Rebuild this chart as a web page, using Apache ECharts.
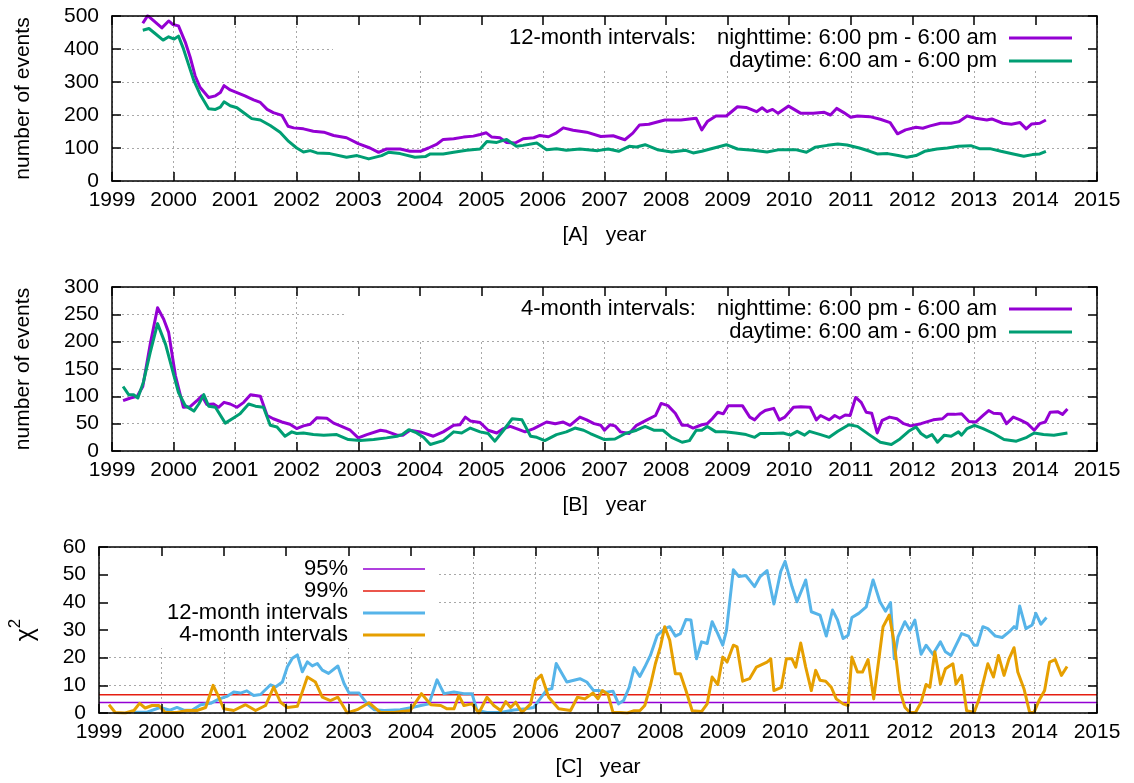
<!DOCTYPE html>
<html><head><meta charset="utf-8">
<script src="https://cdn.jsdelivr.net/npm/echarts@6/dist/echarts.min.js"></script>
<style>html,body{margin:0;padding:0;background:#fff}#c{width:1134px;height:783px}</style>
</head><body><div id="c"></div>
<script>
// ---------- DATA ----------
// Panel A: 12-month intervals
const nightA_t = [1999.50,1999.58,1999.68,1999.81,1999.92,1999.99,2000.08,2000.19,2000.27,2000.35,2000.43,2000.57,2000.68,2000.76,2000.82,2000.92,2001.03,2001.16,2001.30,2001.41,2001.52,2001.62,2001.76,2001.86,2001.95,2002.11,2002.27,2002.44,2002.60,2002.81,2003.00,2003.19,2003.33,2003.46,2003.68,2003.84,2004.01,2004.14,2004.28,2004.38,2004.55,2004.71,2004.87,2004.98,2005.08,2005.17,2005.30,2005.41,2005.55,2005.68,2005.85,2005.95,2006.09,2006.22,2006.33,2006.49,2006.71,2006.94,2007.14,2007.33,2007.46,2007.57,2007.72,2007.98,2008.24,2008.49,2008.58,2008.67,2008.81,2008.98,2009.16,2009.30,2009.47,2009.56,2009.64,2009.73,2009.82,2009.99,2010.19,2010.39,2010.57,2010.67,2010.77,2010.88,2011.00,2011.11,2011.31,2011.48,2011.64,2011.76,2011.89,2012.06,2012.17,2012.29,2012.46,2012.63,2012.76,2012.89,2013.03,2013.21,2013.29,2013.47,2013.61,2013.75,2013.85,2013.94,2014.07,2014.17];
const nightA_v = [478,501,485,464,485,474,470,421,375,319,284,253,258,268,289,276,268,258,246,238,217,207,199,166,161,158,151,148,138,131,113,100,87,97,97,90,90,100,112,126,128,133,136,141,146,133,131,117,115,128,131,138,134,146,161,154,148,135,137,125,145,170,172,185,185,190,155,180,197,197,225,223,210,222,210,217,205,227,205,205,208,200,220,208,193,197,195,187,177,143,155,163,160,167,175,175,180,197,190,185,188,175,172,177,158,173,175,185];
const dayA_t = [1999.50,1999.60,1999.70,1999.83,1999.92,2000.01,2000.08,2000.16,2000.24,2000.33,2000.43,2000.57,2000.68,2000.76,2000.82,2000.92,2001.03,2001.14,2001.27,2001.41,2001.57,2001.73,2001.87,2002.00,2002.11,2002.22,2002.33,2002.54,2002.81,2002.98,2003.17,2003.38,2003.49,2003.68,2003.92,2004.09,2004.17,2004.38,2004.55,2004.76,2004.98,2005.09,2005.25,2005.41,2005.57,2005.68,2005.90,2006.06,2006.22,2006.38,2006.60,2006.89,2007.06,2007.23,2007.40,2007.52,2007.66,2007.86,2008.09,2008.32,2008.44,2008.58,2008.78,2008.98,2009.16,2009.41,2009.64,2009.84,2010.10,2010.28,2010.42,2010.62,2010.79,2010.94,2011.14,2011.31,2011.43,2011.60,2011.77,2011.91,2012.06,2012.20,2012.40,2012.57,2012.75,2012.95,2013.09,2013.26,2013.44,2013.64,2013.81,2013.95,2014.07,2014.17];
const dayA_v = [457,462,447,427,437,430,439,401,355,304,263,219,217,224,240,228,222,207,189,185,168,148,120,100,88,92,85,83,72,77,67,77,87,83,72,74,82,82,87,93,97,120,117,126,105,108,115,95,98,93,97,92,97,90,105,103,110,95,88,93,85,90,100,110,97,93,88,95,95,87,102,108,112,109,100,90,82,83,77,72,77,90,97,100,105,107,98,98,90,82,75,80,82,90];

// Panel B: 4-month intervals
const nightB_t = [1999.18,1999.30,1999.41,1999.50,1999.62,1999.74,1999.84,1999.92,2000.03,2000.16,2000.27,2000.38,2000.46,2000.54,2000.65,2000.73,2000.82,2000.92,2001.03,2001.14,2001.25,2001.41,2001.52,2001.62,2001.76,2001.89,2002.00,2002.11,2002.22,2002.33,2002.49,2002.60,2002.71,2002.87,2003.00,2003.14,2003.36,2003.46,2003.63,2003.73,2003.84,2004.01,2004.22,2004.38,2004.55,2004.65,2004.74,2004.82,2004.98,2005.11,2005.25,2005.36,2005.47,2005.57,2005.71,2005.85,2006.06,2006.20,2006.33,2006.44,2006.60,2006.71,2006.83,2006.94,2007.00,2007.09,2007.17,2007.26,2007.40,2007.52,2007.69,2007.83,2007.92,2008.03,2008.15,2008.26,2008.35,2008.44,2008.58,2008.67,2008.75,2008.84,2008.93,2009.01,2009.13,2009.24,2009.36,2009.44,2009.53,2009.61,2009.75,2009.84,2009.93,2010.07,2010.19,2010.34,2010.44,2010.51,2010.65,2010.74,2010.82,2010.91,2010.99,2011.08,2011.17,2011.25,2011.34,2011.43,2011.51,2011.63,2011.75,2011.86,2011.97,2012.14,2012.34,2012.49,2012.57,2012.69,2012.80,2012.92,2013.03,2013.15,2013.24,2013.32,2013.44,2013.53,2013.64,2013.75,2013.87,2013.98,2014.07,2014.16,2014.24,2014.36,2014.44,2014.52];
const nightB_v = [92,97,100,118,195,262,241,217,138,80,81,92,101,85,86,80,89,86,80,89,103,100,65,59,53,49,41,46,49,61,60,51,46,38,24,30,38,36,29,29,38,35,27,35,47,48,62,55,52,38,33,41,45,41,35,41,53,50,53,47,62,57,50,47,38,48,46,35,32,47,57,65,87,83,69,47,47,42,48,50,59,71,68,83,83,83,62,57,68,74,78,57,62,80,81,80,57,65,57,65,60,66,65,98,89,71,69,33,56,62,59,50,46,50,57,59,67,67,68,54,53,65,74,69,68,50,62,57,50,38,50,53,71,72,67,77];
const dayB_t = [1999.18,1999.27,1999.35,1999.42,1999.51,1999.62,1999.74,1999.87,1999.97,2000.08,2000.19,2000.33,2000.41,2000.49,2000.57,2000.68,2000.84,2000.98,2001.08,2001.22,2001.33,2001.46,2001.57,2001.68,2001.81,2001.92,2002.00,2002.11,2002.27,2002.44,2002.65,2002.84,2003.03,2003.25,2003.46,2003.63,2003.71,2003.82,2003.95,2004.06,2004.17,2004.38,2004.55,2004.68,2004.82,2004.98,2005.11,2005.22,2005.36,2005.50,2005.66,2005.80,2005.90,2006.03,2006.22,2006.38,2006.52,2006.66,2006.77,2007.00,2007.17,2007.34,2007.52,2007.66,2007.80,2007.95,2008.09,2008.26,2008.38,2008.49,2008.58,2008.67,2008.81,2008.95,2009.13,2009.30,2009.44,2009.53,2009.73,2009.90,2010.02,2010.13,2010.25,2010.33,2010.51,2010.65,2010.79,2010.97,2011.11,2011.31,2011.48,2011.66,2011.80,2011.94,2012.06,2012.14,2012.23,2012.32,2012.41,2012.52,2012.63,2012.75,2012.80,2012.89,2013.01,2013.15,2013.32,2013.49,2013.69,2013.86,2013.98,2014.13,2014.30,2014.52];
const dayB_v = [118,103,103,97,126,180,233,195,153,107,83,73,86,103,82,80,51,61,68,86,82,80,47,44,27,35,32,33,30,29,30,21,19,21,24,27,30,39,33,25,12,19,35,33,42,35,32,18,38,59,57,27,25,19,30,35,42,38,32,21,22,32,38,45,38,38,25,16,19,38,38,45,35,35,33,30,25,32,32,33,29,36,29,36,30,25,36,48,45,29,16,12,22,36,44,32,25,30,16,29,27,35,29,41,47,41,32,21,18,25,33,30,29,33];

// Panel C: chi-square statistics
const chi95 = 3.84;
const chi99 = 6.63;
const chi12_t = [1999.56,1999.77,1999.98,2000.14,2000.25,2000.36,2000.49,2000.63,2000.79,2000.92,2001.05,2001.16,2001.27,2001.37,2001.48,2001.59,2001.75,2001.83,2001.94,2002.02,2002.10,2002.18,2002.26,2002.34,2002.42,2002.50,2002.58,2002.68,2002.83,2002.93,2003.01,2003.17,2003.30,2003.41,2003.57,2003.83,2004.02,2004.16,2004.29,2004.42,2004.53,2004.69,2004.85,2004.98,2005.06,2005.22,2005.44,2005.65,2005.84,2005.97,2006.07,2006.18,2006.26,2006.33,2006.50,2006.71,2006.82,2006.93,2007.02,2007.13,2007.24,2007.33,2007.41,2007.50,2007.58,2007.67,2007.75,2007.84,2007.95,2008.07,2008.15,2008.24,2008.32,2008.41,2008.49,2008.58,2008.66,2008.75,2008.83,2008.92,2009.00,2009.06,2009.17,2009.26,2009.37,2009.51,2009.60,2009.71,2009.82,2009.93,2010.00,2010.11,2010.19,2010.30,2010.33,2010.42,2010.56,2010.66,2010.76,2010.84,2010.93,2011.01,2011.07,2011.18,2011.30,2011.41,2011.52,2011.61,2011.69,2011.75,2011.81,2011.92,2012.00,2012.08,2012.18,2012.26,2012.37,2012.49,2012.57,2012.66,2012.83,2012.94,2013.03,2013.08,2013.17,2013.25,2013.37,2013.48,2013.59,2013.67,2013.71,2013.76,2013.86,2013.96,2014.02,2014.10,2014.19];
const chi12_v = [0.3,0.3,2,1,2,1,1,3,3.5,5,6,7.6,7.2,8,6.3,6.7,10.2,9.4,11.2,16.7,19.8,21,14.9,18.5,17,17.9,15.5,14.3,17,10.6,7.2,7.2,3.3,1.2,0.9,1.2,2,2.7,3.3,12,7,7.6,7,7,0.9,0.2,0.2,1.1,1.5,2,5.1,8.4,8.8,17.9,11.2,12.4,11.2,8.1,8.1,7.5,7.9,3.3,4.5,9.3,16.4,13.2,16.6,20.8,28.1,30.5,31.2,27.8,28.7,33.8,33.6,19.6,25.7,25.1,33,28.7,24.5,29.9,51.8,49.3,49.7,45.7,49.3,51.5,39.4,51.2,54.8,45.7,40.2,46.3,48.1,36.6,35.4,27.8,37.2,33.6,26.9,28.1,34.5,36,38.4,48.1,40.2,36.8,39.9,19.6,27.5,33,29.9,33.6,21.2,24.5,21.2,25.7,22.1,20.8,28.7,27.8,24.5,24.5,31.2,30.5,27.8,27.3,29.3,31.2,30.5,38.7,30.5,31.8,36,32.1,34.5];
const chi4_t = [1999.16,1999.26,1999.42,1999.56,1999.65,1999.74,1999.85,1999.96,2000.06,2000.25,2000.41,2000.57,2000.71,2000.83,2000.92,2001.00,2001.16,2001.35,2001.51,2001.67,2001.80,2001.91,2002.02,2002.18,2002.34,2002.47,2002.58,2002.71,2002.83,2002.98,2003.14,2003.33,2003.51,2003.73,2003.99,2004.17,2004.32,2004.48,2004.58,2004.69,2004.77,2004.85,2004.98,2005.09,2005.22,2005.33,2005.44,2005.52,2005.60,2005.68,2005.78,2005.92,2006.00,2006.09,2006.21,2006.37,2006.56,2006.67,2006.79,2006.92,2007.00,2007.07,2007.16,2007.24,2007.36,2007.47,2007.58,2007.67,2007.75,2007.84,2007.92,2008.00,2008.07,2008.15,2008.24,2008.32,2008.41,2008.51,2008.66,2008.75,2008.83,2008.92,2009.00,2009.07,2009.17,2009.23,2009.32,2009.43,2009.54,2009.71,2009.77,2009.82,2009.94,2010.02,2010.11,2010.17,2010.25,2010.33,2010.42,2010.49,2010.56,2010.65,2010.74,2010.82,2010.93,2011.01,2011.07,2011.16,2011.24,2011.33,2011.42,2011.50,2011.57,2011.67,2011.75,2011.84,2011.92,2012.00,2012.09,2012.18,2012.26,2012.32,2012.40,2012.49,2012.57,2012.69,2012.74,2012.83,2012.91,2013.03,2013.11,2013.25,2013.34,2013.42,2013.51,2013.59,2013.67,2013.73,2013.83,2013.92,2013.99,2014.07,2014.16,2014.24,2014.33,2014.43,2014.52];
const chi4_v = [3,0.2,0,0.9,3.5,1.8,2.7,2.7,0.2,0.2,0.9,0.9,2,10,5.7,1.5,0.9,3,0.9,2.7,9.4,3.9,2,2.4,13,11.2,5.7,4.5,5.7,0,1.2,3.7,0.2,0.2,0.9,7,3,2.7,1.5,1.5,6.3,2.7,3.3,0,5.7,2.7,0.9,4.1,2,3.9,0.2,3.3,11.8,13.7,5.7,1.5,0.9,5.7,5.1,7.2,5.1,8.1,6.7,0.2,0.2,0,0.8,0.8,2.7,9.9,17.8,23.9,31.2,26.3,14.2,14.2,8.1,0.8,0.5,3.3,13,10.3,20.2,18.4,24.5,23.9,11.5,12.4,16.6,18.4,19.6,8.1,9.3,19.6,19.6,16.6,25.3,16.6,8.1,15.4,11.8,11.5,9.3,5.1,3.3,2.7,20.2,14.8,14.8,19.3,5.1,19,31.2,35.4,25.1,8.1,2.1,0.2,0.2,3.9,10.3,9.3,22.1,10.5,16,17.8,10.5,13.6,0.8,0.2,5.1,17.8,13,20.8,13.6,19.6,23.6,14.8,8.7,0.2,0.2,4.5,8.1,18.4,19.3,13.6,16.8];

const yearMin = 1999, yearMax = 2015;
const xTitles = ['[A]   year', '[B]   year', '[C]   year'];
const yTitles = ['number of events', 'number of events', '{c|χ}{s|2}'];
const yMax = [500, 300, 60];
const yStep = [100, 50, 10];
const legA = ['12-month intervals:', 'nighttime: 6:00 pm - 6:00 am', 'daytime: 6:00 am - 6:00 pm'];
const legB = ['4-month intervals:', 'nighttime: 6:00 pm - 6:00 am', 'daytime: 6:00 am - 6:00 pm'];
const legC = ['95%', '99%', '12-month intervals', '4-month intervals'];

// ---------- STYLE / LAYOUT ----------
const FONT = "'Liberation Sans', Arial, Helvetica, sans-serif";
const FS = 21;
const LFS = 22;
const C_PURPLE = '#9400d3', C_GREEN = '#009e73', C_BLUE = '#56b4e9', C_ORANGE = '#e69f00', C_RED = '#e51e10';
const zip = (t, v) => t.map((x, i) => [x, v[i]]);

const grids = [
  {left: 112, right: 37, top: 16, height: 165},
  {left: 112, right: 37, top: 287, height: 164},
  {left: 99, right: 37, top: 547, height: 166}
].map(g => Object.assign({outerBoundsMode: 'none', containLabel: false}, g));

const xAxis = [], yAxis = [];
const lineStyleFrame = {color: '#000', width: 1.5};
grids.forEach((g, i) => {
  const base = {gridIndex: i, type: 'value', min: yearMin, max: yearMax, interval: 1};
  xAxis.push(Object.assign({}, base, {
    position: 'bottom', z: 3,
    axisLine: {onZero: false, lineStyle: lineStyleFrame},
    axisTick: {inside: true, length: 9, lineStyle: lineStyleFrame},
    axisLabel: {formatter: v => String(v), color: '#000', fontSize: FS, fontFamily: FONT, margin: 9},
    splitLine: {show: false},
    name: xTitles[i], nameLocation: 'middle', nameGap: 44,
    nameTextStyle: {color: '#000', fontSize: FS, fontFamily: FONT}
  }));
  xAxis.push(Object.assign({}, base, {
    position: 'top', z: 3,
    axisLine: {onZero: false, lineStyle: lineStyleFrame},
    axisTick: {inside: true, length: 9, lineStyle: lineStyleFrame},
    axisLabel: {show: false}, splitLine: {show: false}
  }));
  xAxis.push(Object.assign({}, base, {
    position: 'bottom', z: 0,
    axisLine: {show: false, onZero: false}, axisTick: {show: false}, axisLabel: {show: false},
    splitLine: {show: true, lineStyle: {color: '#a8a8a8', width: 1, type: [2, 3]}}
  }));
  const ybase = {gridIndex: i, type: 'value', min: 0, max: yMax[i], interval: yStep[i]};
  const yname = i === 2 ? {
      name: yTitles[i], nameLocation: 'middle', nameGap: 60,
      nameTextStyle: {color: '#000', fontFamily: FONT,
        rich: {c: {fontSize: 25, fontFamily: FONT, color: '#000', verticalAlign: 'bottom', lineHeight: 32},
               s: {fontSize: 17, fontFamily: FONT, color: '#000', verticalAlign: 'top', lineHeight: 32}}}
    } : {
      name: yTitles[i], nameLocation: 'middle', nameGap: 78,
      nameTextStyle: {color: '#000', fontSize: FS, fontFamily: FONT}
    };
  yAxis.push(Object.assign({}, ybase, yname, {
    position: 'left', z: 3,
    axisLine: {onZero: false, lineStyle: lineStyleFrame},
    axisTick: {inside: true, length: 9, lineStyle: lineStyleFrame},
    axisLabel: {color: '#000', fontSize: FS, fontFamily: FONT, margin: 13},
    splitLine: {show: false}
  }));
  yAxis.push(Object.assign({}, ybase, {
    position: 'right', z: 3,
    axisLine: {onZero: false, lineStyle: lineStyleFrame},
    axisTick: {inside: true, length: 9, lineStyle: lineStyleFrame},
    axisLabel: {show: false}, splitLine: {show: false}
  }));
  yAxis.push(Object.assign({}, ybase, {
    position: 'left', z: 0,
    axisLine: {show: false, onZero: false}, axisTick: {show: false}, axisLabel: {show: false},
    splitLine: {show: true, lineStyle: {color: '#a8a8a8', width: 1, type: [2, 3]}}
  }));
});

function line(name, gi, data, color, width) {
  return {
    name, type: 'line', xAxisIndex: gi * 3, yAxisIndex: gi * 3, data,
    showSymbol: false, symbol: 'none', animation: false, z: 2,
    lineStyle: {color, width, join: 'round'}, itemStyle: {color}
  };
}

const series = [
  line('A nighttime', 0, zip(nightA_t, nightA_v), C_PURPLE, 3),
  line('A daytime', 0, zip(dayA_t, dayA_v), C_GREEN, 3),
  line('B nighttime', 1, zip(nightB_t, nightB_v), C_PURPLE, 3),
  line('B daytime', 1, zip(dayB_t, dayB_v), C_GREEN, 3),
  line('95%', 2, [[yearMin, chi95], [yearMax, chi95]], C_PURPLE, 1.5),
  line('99%', 2, [[yearMin, chi99], [yearMax, chi99]], C_RED, 1.5),
  line('12-month intervals', 2, zip(chi12_t, chi12_v), C_BLUE, 3),
  line('4-month intervals', 2, zip(chi4_t, chi4_v), C_ORANGE, 3)
];

// key (legend) drawn like gnuplot's opaque key
function txt(x, y, s, align) {
  return {type: 'text', z: 4, x, y, style: {text: s, fill: '#000', font: LFS + 'px ' + FONT,
    align, textAlign: align, verticalAlign: 'middle', textVerticalAlign: 'middle'}};
}
function seg(x1, x2, y, color, w) {
  return {type: 'line', z: 4, shape: {x1, y1: y, x2, y2: y}, style: {stroke: color, lineWidth: w}};
}
const graphic = [
  {type: 'rect', z: 1, shape: {x: 333, y: 17, width: 762, height: 53}, style: {fill: '#fff'}},
  {type: 'rect', z: 1, shape: {x: 345, y: 288, width: 750, height: 53}, style: {fill: '#fff'}},
  {type: 'rect', z: 1, shape: {x: 100, y: 548, width: 338, height: 100}, style: {fill: '#fff'}},
  txt(509, 38, legA[0], 'left'), txt(997, 38, legA[1], 'right'), txt(997, 61, legA[2], 'right'),
  seg(1009, 1072, 38, C_PURPLE, 3), seg(1009, 1072, 61, C_GREEN, 3),
  txt(521, 309, legB[0], 'left'), txt(997, 309, legB[1], 'right'), txt(997, 332, legB[2], 'right'),
  seg(1009, 1072, 309, C_PURPLE, 3), seg(1009, 1072, 332, C_GREEN, 3),
  txt(348, 569, legC[0], 'right'), txt(348, 591, legC[1], 'right'),
  txt(348, 613, legC[2], 'right'), txt(348, 635, legC[3], 'right'),
  seg(363, 425, 569, C_PURPLE, 1.5), seg(363, 425, 591, C_RED, 1.5),
  seg(363, 425, 613, C_BLUE, 3), seg(363, 425, 635, C_ORANGE, 3)
];

const chart = echarts.init(document.getElementById('c'), null, {renderer: 'canvas'});
chart.setOption({
  backgroundColor: '#fff', animation: false,
  textStyle: {fontFamily: FONT},
  grid: grids, xAxis, yAxis, series, graphic
});
</script></body></html>
